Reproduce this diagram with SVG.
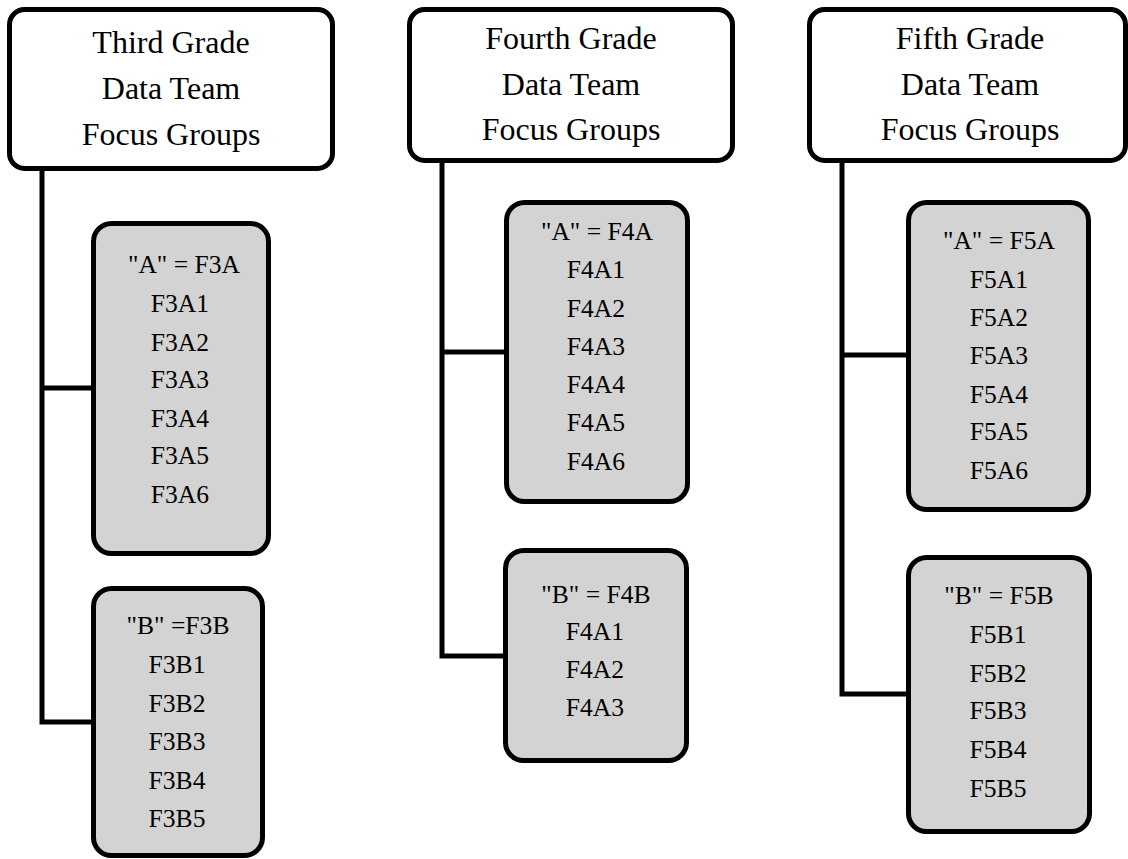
<svg xmlns="http://www.w3.org/2000/svg" width="1128" height="859" viewBox="0 0 1128 859">
<style>
.head{fill:#fff;stroke:#000;stroke-width:5}
.grp{fill:#d3d3d3;stroke:#000;stroke-width:5}
.conn{fill:none;stroke:#000;stroke-width:5;stroke-linejoin:miter;stroke-linecap:butt}
.ht{font-family:"Liberation Serif","Times New Roman",serif;font-size:32px;text-anchor:middle;fill:#000}
.it{font-family:"Liberation Serif","Times New Roman",serif;font-size:25.6px;text-anchor:middle;fill:#000}
</style>
<rect width="1128" height="859" fill="#fff"/>
<g id="connectors">
<path class="conn" d="M42,168 V722 H94 M42,388 H94"/>
<path class="conn" d="M442,160 V656 H506 M442,352 H507"/>
<path class="conn" d="M842,160 V694 H909 M842,355 H909"/>
</g>
<g id="third-grade">
<rect class="head" x="9.5" y="9.5" width="323" height="159" rx="15"/>
<text class="ht" x="171" y="53">Third Grade</text>
<text class="ht" x="171" y="99">Data Team</text>
<text class="ht" x="171" y="145">Focus Groups</text>
</g>
<g id="fourth-grade">
<rect class="head" x="409.5" y="9.5" width="323" height="151" rx="15"/>
<text class="ht" x="571" y="49">Fourth Grade</text>
<text class="ht" x="571" y="95">Data Team</text>
<text class="ht" x="571" y="140">Focus Groups</text>
</g>
<g id="fifth-grade">
<rect class="head" x="809.5" y="9.5" width="316" height="151" rx="15"/>
<text class="ht" x="970" y="49">Fifth Grade</text>
<text class="ht" x="970" y="95">Data Team</text>
<text class="ht" x="970" y="140">Focus Groups</text>
</g>
<g id="f3a">
<rect class="grp" x="93.5" y="223.5" width="175" height="330" rx="18"/>
<text class="it" x="184" y="273">"A" = F3A</text>
<text class="it" x="180" y="312">F3A1</text>
<text class="it" x="180" y="351">F3A2</text>
<text class="it" x="180" y="388">F3A3</text>
<text class="it" x="180" y="427">F3A4</text>
<text class="it" x="180" y="464">F3A5</text>
<text class="it" x="180" y="503">F3A6</text>
</g>
<g id="f3b">
<rect class="grp" x="93.5" y="588.5" width="169" height="267" rx="18"/>
<text class="it" x="178" y="634">"B" =F3B</text>
<text class="it" x="177" y="673">F3B1</text>
<text class="it" x="177" y="712">F3B2</text>
<text class="it" x="177" y="750">F3B3</text>
<text class="it" x="177" y="789">F3B4</text>
<text class="it" x="177" y="827">F3B5</text>
</g>
<g id="f4a">
<rect class="grp" x="506.5" y="202.5" width="181" height="299" rx="18"/>
<text class="it" x="597" y="240">"A" = F4A</text>
<text class="it" x="596" y="278">F4A1</text>
<text class="it" x="596" y="317">F4A2</text>
<text class="it" x="596" y="355">F4A3</text>
<text class="it" x="596" y="393">F4A4</text>
<text class="it" x="596" y="431">F4A5</text>
<text class="it" x="596" y="470">F4A6</text>
</g>
<g id="f4b">
<rect class="grp" x="505.5" y="550.5" width="181" height="210" rx="18"/>
<text class="it" x="596" y="603">"B" = F4B</text>
<text class="it" x="595" y="640">F4A1</text>
<text class="it" x="595" y="678">F4A2</text>
<text class="it" x="595" y="716">F4A3</text>
</g>
<g id="f5a">
<rect class="grp" x="908.5" y="202.5" width="180" height="307" rx="18"/>
<text class="it" x="999" y="249">"A" = F5A</text>
<text class="it" x="999" y="288">F5A1</text>
<text class="it" x="999" y="326">F5A2</text>
<text class="it" x="999" y="364">F5A3</text>
<text class="it" x="999" y="403">F5A4</text>
<text class="it" x="999" y="440">F5A5</text>
<text class="it" x="999" y="479">F5A6</text>
</g>
<g id="f5b">
<rect class="grp" x="908.5" y="557.5" width="181" height="274" rx="18"/>
<text class="it" x="999" y="604">"B" = F5B</text>
<text class="it" x="998" y="643">F5B1</text>
<text class="it" x="998" y="682">F5B2</text>
<text class="it" x="998" y="719">F5B3</text>
<text class="it" x="998" y="758">F5B4</text>
<text class="it" x="998" y="797">F5B5</text>
</g>
</svg>
